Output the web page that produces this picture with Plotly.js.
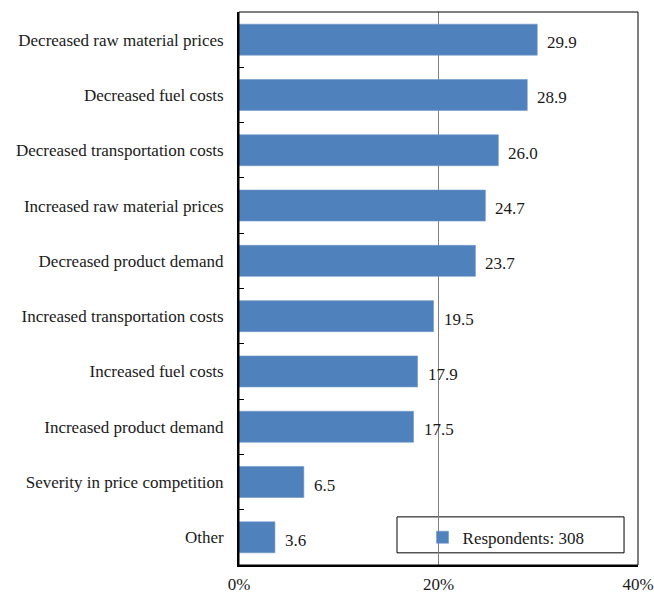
<!DOCTYPE html>
<html>
<head>
<meta charset="utf-8">
<script src="https://cdn.plot.ly/plotly-3.0.1.min.js"></script>
<style>
  html, body { margin: 0; padding: 0; background: #fff; }
  #chart { width: 654px; height: 595px; }
</style>
</head>
<body>
<div id="chart"></div>
<script>
// Reasons cited for changes in business conditions (share of respondents, %)
const categories = [
  "Decreased raw material prices",
  "Decreased fuel costs",
  "Decreased transportation costs",
  "Increased raw material prices",
  "Decreased product demand",
  "Increased transportation costs",
  "Increased fuel costs",
  "Increased product demand",
  "Severity in price competition",
  "Other"
];
const shares = [29.9, 28.9, 26.0, 24.7, 23.7, 19.5, 17.9, 17.5, 6.5, 3.6];
const seriesName = "Respondents: 308";
const xTickValues = [0, 20, 40];
const xTickLabels = ["0%", "20%", "40%"];

const barColor = "#4F81BD";
const textColor = "#1a1a1a";
const font = { family: "Liberation Serif, Times New Roman, serif", size: 17, color: textColor };

const trace = {
  type: "bar",
  orientation: "h",
  x: shares,
  y: categories,
  name: seriesName,
  marker: { color: barColor, line: { color: "#6f97c9", width: 0.6 } },
  hoverinfo: "x+y",
  cliponaxis: false
};

// value labels just right of each bar end
const valueLabels = categories.map((c, i) => ({
  x: shares[i],
  y: c,
  xref: "x",
  yref: "y",
  text: shares[i].toFixed(1),
  showarrow: false,
  xanchor: "left",
  yanchor: "middle",
  xshift: 8,
  yshift: -3,
  font: font
}));

const layout = {
  width: 654,
  height: 595,
  margin: { l: 239, r: 16, t: 12, b: 30 },
  paper_bgcolor: "#fff",
  plot_bgcolor: "#fff",
  font: font,
  bargap: 0.44,
  showlegend: true,
  legend: {
    x: 0.46,
    y: 0.082,
    xanchor: "left",
    yanchor: "top",
    bgcolor: "rgba(0,0,0,0)",
    borderwidth: 0,
    font: font,
    itemwidth: 30
  },
  xaxis: {
    range: [0, 40],
    tickvals: xTickValues,
    ticktext: xTickLabels,
    showgrid: true,
    gridcolor: "#808080",
    gridwidth: 1,
    zeroline: false,
    showline: true,
    linecolor: "#000",
    linewidth: 2,
    ticks: "",
    ticklabelstandoff: 3,
    fixedrange: true
  },
  yaxis: {
    type: "category",
    autorange: "reversed",
    showgrid: false,
    zeroline: false,
    showline: true,
    linecolor: "#000",
    linewidth: 2,
    ticks: "inside",
    tickson: "boundaries",
    ticklen: 5,
    tickwidth: 1,
    tickcolor: "#000",
    ticklabelstandoff: 10,
    fixedrange: true
  },
  shapes: [
    // frame around the plot area (top and right edges)
    { type: "rect", xref: "paper", yref: "paper", x0: 0, x1: 1, y0: 0, y1: 1,
      line: { color: "#000", width: 1 }, fillcolor: "rgba(0,0,0,0)", layer: "above" },
    // legend box
    { type: "rect", xref: "paper", yref: "paper", x0: 0.396, x1: 0.965, y0: 0.022, y1: 0.087,
      line: { color: "#000", width: 1 }, fillcolor: "#fff", layer: "below" }
  ],
  annotations: valueLabels
};

Plotly.newPlot("chart", [trace], layout, { displayModeBar: false, staticPlot: true });
</script>
</body>
</html>
